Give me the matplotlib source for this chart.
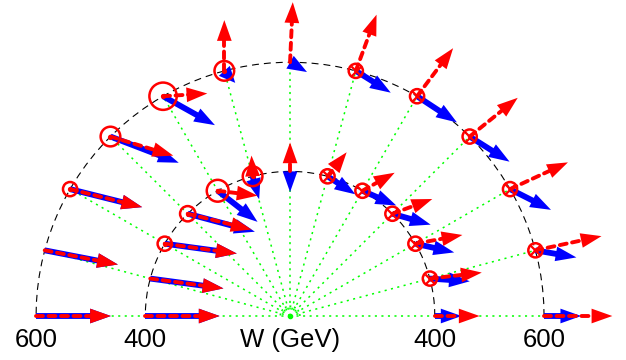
import numpy as np
import matplotlib
matplotlib.use("Agg")
import matplotlib.pyplot as plt

plt.rcParams["lines.scale_dashes"] = False

# ---------------- data ----------------
ring_W = [400, 600]            # W (GeV) of the two rings
W_origin = 135                 # W at the centre of the polar plot
angles_deg = [0, 15, 30, 45, 60, 75, 90, 105, 120, 135, 150, 165, 180]

# blue (solid) vectors, ring W = 600
blue600_dx = [68, 75, 75, 73, 73, 64, 31, 20, 95, 125, 132, 134, 137]
blue600_dy = [0, -13, -38, -46, -48, -40, -18, -22, -53, -48, -33, -26, 0]
# red (dashed) vectors, ring W = 600
red600_dx = [125, 121, 106, 88, 66, 38, 5, 0, 81, 115, 132, 134, 137]
red600_dy = [0, 26, 49, 71, 88, 103, 110, 93, 5, -35, -33, -26, 0]
# blue (solid) vectors, ring W = 400
blue400_dx = [49, 73, 71, 70, 62, 51, 0, 12, 73, 123, 132, 134, 136]
blue400_dy = [0, -5, -16, -20, -27, -33, -38, -42, -57, -33, -18, -18, 0]
# red (dashed) vectors, ring W = 400
red400_dx = [82, 95, 86, 73, 59, 35, 0, -2, 73, 117, 132, 134, 136]
red400_dy = [0, 11, 16, 27, 33, 44, 53, 38, -9, -29, -18, -18, 0]
# out-of-plane component (+ : out of page "o", - : into page "x")
normal600 = [0, -13, -13, -13, -13, -13, 0, 18, 25, 18, 13, 0, 0]
normal400 = [0, -13, -13, -13, -13, -13, 0, 18, 20, 14, 13, 0, 0]

tick_labels = ["600", "400", "W (GeV)", "400", "600"]

# ---------------- figure ----------------
fig = plt.figure(figsize=(6.26, 3.6), dpi=100)
ax = fig.add_axes([0, 0, 1, 1])
ax.set_xlim(-531, 615)
ax.set_ylim(-80.6, 579)
ax.axis("off")

px_per_unit = 626 / (615 + 531)
pt_per_unit = px_per_unit * 0.72

th = np.radians(angles_deg)
radii = [w - W_origin for w in ring_W]
r_out = max(radii)

GREEN = (0.0, 1.0, 0.0)
# radial guide lines
for t in th:
    ax.plot([0, r_out * np.cos(t)], [0, r_out * np.sin(t)], color=GREEN,
            lw=1.1, dashes=(1.5, 3.2), zorder=1)
tt = np.linspace(0, np.pi, 60)
ax.plot(18 * np.cos(tt), 18 * np.sin(tt), color=GREEN, lw=1.1,
        dashes=(1.4, 2.0), zorder=1)
ax.plot([0], [0], "o", color=GREEN, ms=3, zorder=1)

# dashed rings
for r in radii:
    ax.plot(r * np.cos(tt), r * np.sin(tt), color="black", lw=0.8,
            dashes=(5.0, 3.6), zorder=2)

HL = 38.0   # head length (data units)
HW = 13.5   # head half width (data units)


def draw_arrow(x0, y0, dx, dy, color, lw, dashes, z):
    L = np.hypot(dx, dy)
    if L == 0:
        return
    ux, uy = dx / L, dy / L
    hl = min(HL, L)
    bx, by = x0 + dx - ux * hl, y0 + dy - uy * hl
    if L > hl:
        kw = dict(color=color, lw=lw, zorder=z, solid_capstyle="butt")
        if dashes is not None:
            kw.update(dashes=dashes, dash_capstyle="round")
        ax.plot([x0, bx + ux * 3], [y0, by + uy * 3], **kw)
    nx, ny = -uy, ux
    ax.fill([x0 + dx, bx + nx * HW, bx - nx * HW],
            [y0 + dy, by + ny * HW, by - ny * HW],
            color=color, lw=0, zorder=z)


rings = [
    (radii[0], blue400_dx, blue400_dy, red400_dx, red400_dy, normal400),
    (radii[1], blue600_dx, blue600_dy, red600_dx, red600_dy, normal600),
]

BLUE = (0.0, 0.0, 1.0)
RED = (1.0, 0.0, 0.0)
for r, bdx, bdy, rdx, rdy, nrm in rings:
    for k, t in enumerate(th):
        x0, y0 = r * np.cos(t), r * np.sin(t)
        draw_arrow(x0, y0, bdx[k], bdy[k], BLUE, 4.2, None, 3)
    for k, t in enumerate(th):
        x0, y0 = r * np.cos(t), r * np.sin(t)
        draw_arrow(x0, y0, rdx[k], rdy[k], RED, 2.8, (5.0, 4.0), 4)
    for k, t in enumerate(th):
        x0, y0 = r * np.cos(t), r * np.sin(t)
        n = nrm[k]
        if n == 0:
            continue
        d_pt = 2 * abs(n) * pt_per_unit
        ax.scatter([x0], [y0], s=d_pt ** 2, marker="o", facecolors="none",
                   edgecolors=RED, linewidths=1.8, zorder=5)
        if n < 0:
            ax.scatter([x0], [y0], s=(d_pt ** 2) / 2, marker="x", color=RED,
                       linewidths=1.6, zorder=5)
        else:
            ax.scatter([x0], [y0], s=14, marker="o", color=RED, lw=0,
                       zorder=5)

# labels
label_x = [-radii[1], -radii[0], 0, radii[0], radii[1]]
for x, s in zip(label_x, tick_labels):
    ax.text(x, -56.8, s, ha="center", va="baseline",
            fontsize=18.5, family="Liberation Sans", color="black")

fig.savefig("out.png", dpi=100)
